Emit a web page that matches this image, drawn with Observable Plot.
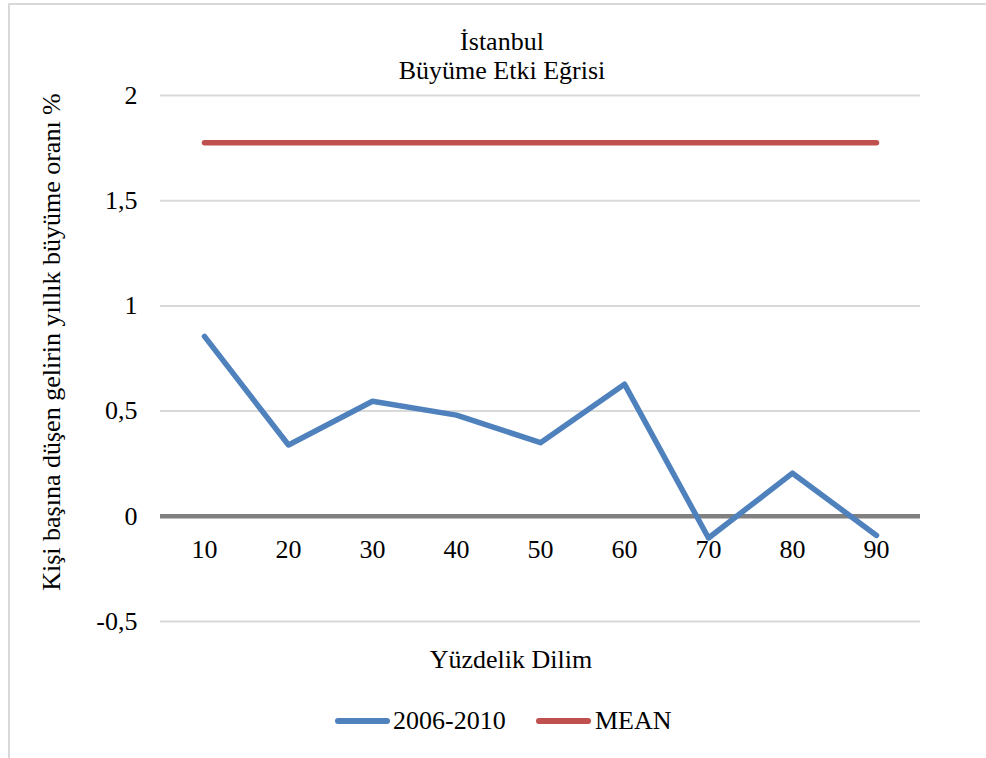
<!DOCTYPE html>
<html>
<head>
<meta charset="utf-8">
<script src="https://cdn.jsdelivr.net/npm/d3@7"></script>
<script src="https://cdn.jsdelivr.net/npm/@observablehq/plot@0.6"></script>
<style>
  html, body { margin: 0; padding: 0; background: #fff; }
  #wrap { position: relative; width: 986px; height: 758px; overflow: hidden; font-family: "Liberation Serif", "Times New Roman", serif; color: #000; }
  #frame { position: absolute; left: 8px; top: 3px; width: 990px; height: 770px; border-left: 2px solid #d9d9d9; border-top: 2px solid #d9d9d9; box-sizing: border-box; }
  .t { position: absolute; font-size: 26px; line-height: 30px; white-space: nowrap; }
  #chart { position: absolute; left: 0; top: 0; }
  #legend { position: absolute; top: 705px; left: 0; width: 986px; height: 32px; }
  .sw { position: absolute; height: 6px; border-radius: 3px; top: 13px; }
</style>
</head>
<body>
<div id="wrap">
  <div id="frame"></div>
  <div id="chart"></div>
  <div class="t" id="title1" style="left:0;width:1004px;text-align:center;top:27px;">İstanbul</div>
  <div class="t" id="title2" style="left:0;width:1004px;text-align:center;top:56px;">Büyüme Etki Eğrisi</div>
  <div class="t" id="xlabel" style="left:0;width:1022px;text-align:center;top:645px;">Yüzdelik Dilim</div>
  <div class="t" id="ylabel" style="left:52px;top:342px;transform:translate(-50%,-50%) rotate(-90deg);">Kişi başına düşen gelirin yıllık büyüme oranı %</div>
  <div id="legend">
    <div class="sw" style="left:335px;width:55px;background:#4f81bd;"></div>
    <div class="t" style="left:393px;top:1px;">2006-2010</div>
    <div class="sw" style="left:536px;width:55px;background:#c0504d;"></div>
    <div class="t" style="left:595px;top:1px;">MEAN</div>
  </div>
</div>
<script>
const percentiles = [10, 20, 30, 40, 50, 60, 70, 80, 90];
const growth2006_2010 = [0.855, 0.339, 0.547, 0.481, 0.350, 0.628, -0.103, 0.205, -0.091];
const meanValue = 1.775;
const yTicks = [-0.5, 0, 0.5, 1, 1.5, 2];

const seriesData = percentiles.map((p, i) => ({p, v: growth2006_2010[i]}));
const meanData = percentiles.map(p => ({p, v: meanValue}));
const fmt = d => String(d).replace(".", ",");

const chart = Plot.plot({
  width: 986,
  height: 700,
  marginTop: 95,
  marginBottom: 79,
  marginLeft: 160,
  marginRight: 66,
  style: {fontFamily: "'Liberation Serif', 'Times New Roman', serif", fontSize: "26px", color: "#000", background: "transparent"},
  x: {type: "point", domain: percentiles, padding: 0.5, axis: null},
  y: {domain: [-0.5, 2], nice: false, label: null},
  marks: [
    Plot.ruleY(yTicks.filter(d => d !== 0), {stroke: "#d9d9d9", strokeWidth: 2}),
    Plot.axisY(yTicks, {tickSize: 0, tickPadding: 23, tickFormat: fmt, label: null, fontSize: 26}),
    Plot.ruleY([0], {stroke: "#808080", strokeWidth: 4.5}),
    Plot.text(percentiles, {x: d => d, y: () => 0, text: d => String(d), dy: 33, fontSize: 26, fill: "#000"}),
    Plot.line(meanData, {x: "p", y: "v", stroke: "#c0504d", strokeWidth: 5.5, strokeLinecap: "round", strokeLinejoin: "round"}),
    Plot.line(seriesData, {x: "p", y: "v", stroke: "#4f81bd", strokeWidth: 5.5, strokeLinecap: "round", strokeLinejoin: "round"})
  ]
});
document.getElementById("chart").appendChild(chart);
</script>
</body>
</html>
